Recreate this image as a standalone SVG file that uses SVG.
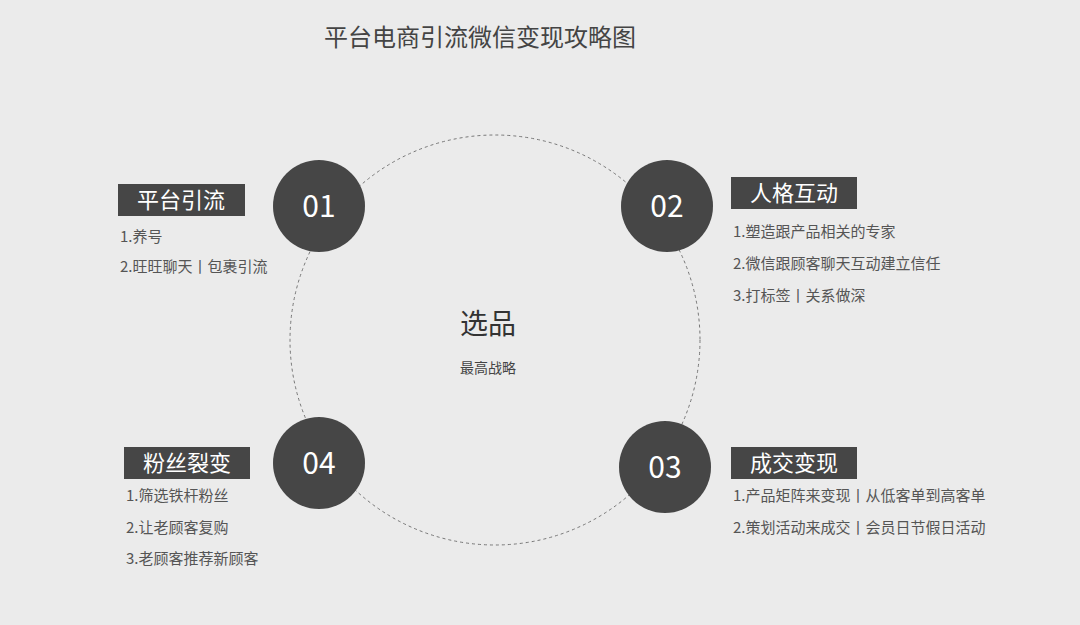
<svg xmlns="http://www.w3.org/2000/svg" width="1080" height="625" viewBox="0 0 1080 625">
<style>
text{font-family:"Noto Sans CJK SC","Liberation Sans",sans-serif}
.num{fill:#fff;font-size:30px;text-anchor:middle}
.lab{fill:#fff;font-size:22px;text-anchor:middle}
.it{fill:#555;font-size:15px}
.dot{fill:#464646}
.box{fill:#464646}
</style>
<rect width="1080" height="625" fill="#ebebeb"/>
<text x="480" y="46" font-size="24" fill="#444" text-anchor="middle">平台电商引流微信变现攻略图</text>
<g id="connectors">
<circle cx="495" cy="340" r="205" fill="none" stroke="#777" stroke-width="1" stroke-dasharray="3,3"/>
</g>
<g id="center">
<text x="488" y="334" font-size="28" fill="#333" text-anchor="middle">选品</text>
<text x="488" y="373" font-size="14" fill="#444" text-anchor="middle">最高战略</text>
</g>
<g id="n01">
<circle class="dot" cx="319" cy="206" r="46"/>
<text class="num" x="319" y="217">01</text>
<rect class="box" x="118" y="184" width="127" height="32"/>
<text class="lab" x="181" y="208">平台引流</text>
<text class="it" x="120" y="242">1.养号</text>
<text class="it" x="120" y="272">2.旺旺聊天丨包裹引流</text>
</g>
<g id="n02">
<circle class="dot" cx="667" cy="206" r="46"/>
<text class="num" x="667" y="217">02</text>
<rect class="box" x="731" y="177" width="126" height="32"/>
<text class="lab" x="794" y="201">人格互动</text>
<text class="it" x="733" y="237">1.塑造跟产品相关的专家</text>
<text class="it" x="733" y="269">2.微信跟顾客聊天互动建立信任</text>
<text class="it" x="733" y="301">3.打标签丨关系做深</text>
</g>
<g id="n03">
<circle class="dot" cx="665" cy="467" r="46"/>
<text class="num" x="665" y="478">03</text>
<rect class="box" x="731" y="447" width="126" height="32"/>
<text class="lab" x="794" y="471">成交变现</text>
<text class="it" x="733" y="501">1.产品矩阵来变现丨从低客单到高客单</text>
<text class="it" x="733" y="533">2.策划活动来成交丨会员日节假日活动</text>
</g>
<g id="n04">
<circle class="dot" cx="319" cy="463" r="46"/>
<text class="num" x="319" y="474">04</text>
<rect class="box" x="124" y="447" width="126" height="32"/>
<text class="lab" x="187" y="471">粉丝裂变</text>
<text class="it" x="126" y="501">1.筛选铁杆粉丝</text>
<text class="it" x="126" y="533">2.让老顾客复购</text>
<text class="it" x="126" y="564">3.老顾客推荐新顾客</text>
</g>
</svg>
